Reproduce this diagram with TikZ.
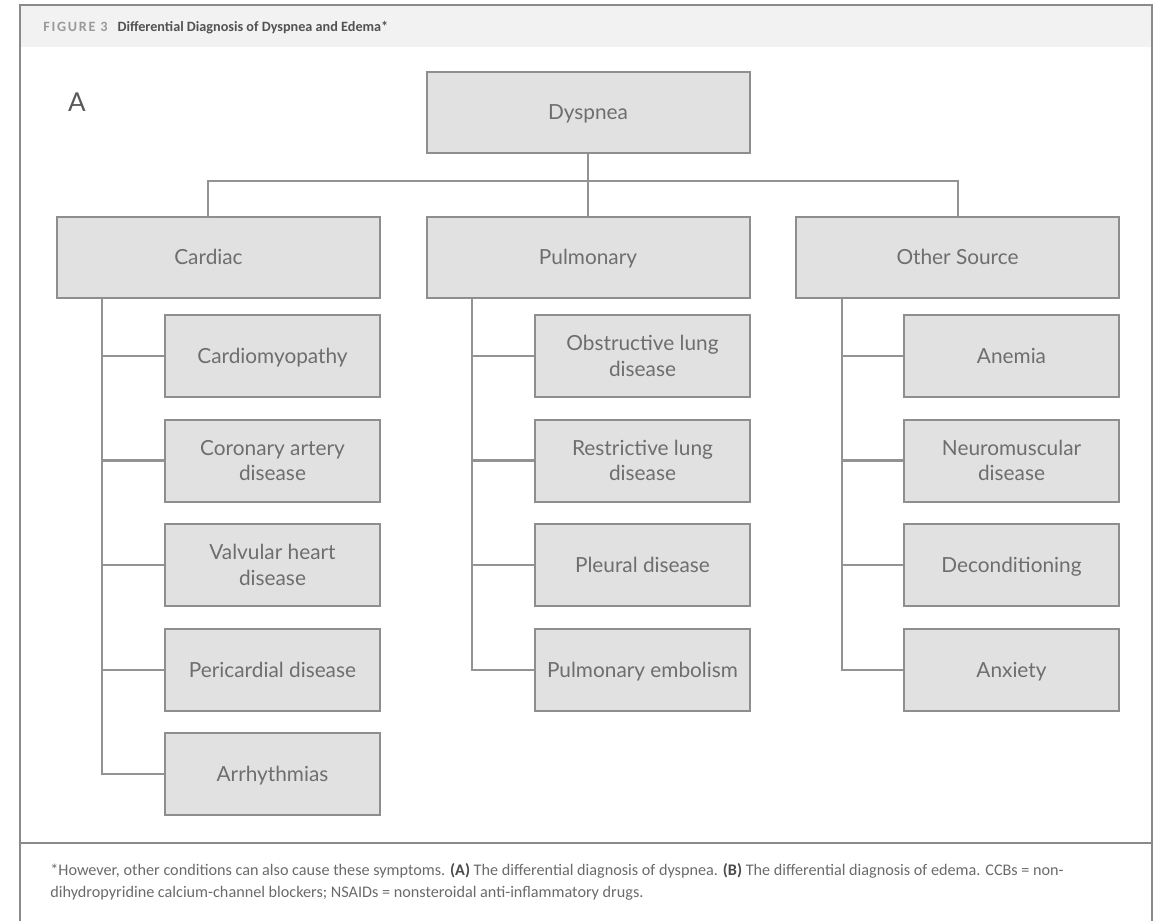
\documentclass[tikz,border=0pt]{standalone}
\usepackage{fontspec}
\setmainfont{Lato}
\newfontfamily\capfont{Carlito}
\definecolor{boxfill}{HTML}{E1E1E1}
\definecolor{boxline}{HTML}{8E8E8E}
\definecolor{boxtext}{HTML}{6E6E6E}
\definecolor{connline}{HTML}{939393}
\definecolor{headbg}{HTML}{F2F2F2}
\definecolor{framecol}{HTML}{8A8A8A}
\definecolor{captext}{HTML}{6A6A6A}
\definecolor{capbold}{HTML}{4A4A4A}
\tikzset{
  box/.style={draw=boxline, fill=boxfill, line width=1pt, inner sep=0pt,
    align=center, text=boxtext, font=\fontsize{10.4}{12.8}\selectfont},
  oneline/.style={text height=7.4pt, text depth=0pt},
  topbox/.style={box, oneline, minimum width=161.5pt, minimum height=40.5pt},
  leafbox/.style={box, minimum width=107.5pt, minimum height=41pt},
  leafone/.style={leafbox, oneline},
  conn/.style={draw=connline, line width=1.2pt},
  framestyle/.style={draw=framecol, line width=1pt},
}
\begin{document}
\begin{tikzpicture}[x=0.5pt, y=-0.5pt]
\useasboundingbox (0,0) rectangle (1159,921);

% figure frame and title band
\fill[headbg] (20,5) rectangle (1152,47);
\draw[framestyle] (20,921) -- (20,5) -- (1152,5) -- (1152,921);
\draw[framestyle] (20,843) -- (1152,843);
\node[anchor=west, inner sep=0pt, font=\capfont\fontsize{7.1}{8}\selectfont] (title) at (43,28)
  {{\color{black!40}\bfseries\addfontfeatures{LetterSpace=12}FIGURE 3}\hspace{5pt}{\color{black!68}\bfseries Differential Diagnosis of Dyspnea and Edema*}};

% panel label
\node[text=black!65, font=\fontsize{13}{15}\selectfont, inner sep=0pt] (panelA) at (77,102) {A};

% root and first level
\node[topbox] (dys) at (588,112.5) {Dyspnea};
\node[topbox] (card) at (218.5,257) {\hspace*{-10pt}Cardiac};
\node[topbox] (pulm) at (588,257) {Pulmonary};
\node[topbox] (other) at (957.5,257) {Other Source};

% cardiac causes
\node[leafone] (cmp) at (272.5,356) {Cardiomyopathy};
\node[leafbox] (cad) at (272.5,460.5) {Coronary artery\\disease};
\node[leafbox] (vhd) at (272.5,565) {Valvular heart\\disease};
\node[leafone] (peri) at (272.5,670) {Pericardial disease};
\node[leafone] (arr) at (272.5,774) {Arrhythmias};

% pulmonary causes
\node[leafbox] (obs) at (642.5,356) {Obstructive lung\\disease};
\node[leafbox] (res) at (642.5,460.5) {Restrictive lung\\disease};
\node[leafone] (pleu) at (642.5,565) {Pleural disease};
\node[leafone] (pe) at (642.5,670) {Pulmonary embolism};

% other sources
\node[leafone] (anem) at (1011.5,356) {Anemia};
\node[leafbox] (neur) at (1011.5,460.5) {Neuromuscular\\disease};
\node[leafone] (deco) at (1011.5,565) {Deconditioning};
\node[leafone] (anx) at (1011.5,670) {Anxiety};

% tree connectors from the root
\coordinate (busL) at (208,181);
\coordinate (busR) at (958,181);
\coordinate (cardTop) at (208,216.75);
\draw[conn] (dys.south) -- (dys.south |- busL);
\draw[conn] (cardTop) -- (busL) -- (busR) -- (other.north -| busR);
\draw[conn] (pulm.north) -- (pulm.north |- busL);

% spines and branches
\coordinate (cSpine) at (102,277);
\coordinate (pSpine) at (472,277);
\coordinate (oSpine) at (842,277);
\draw[conn] (card.south -| cSpine) |- (arr.west);
\foreach \n in {cmp,cad,vhd,peri} \draw[conn] (\n.west) -- (\n.west -| cSpine);
\draw[conn] (pulm.south -| pSpine) |- (pe.west);
\foreach \n in {obs,res,pleu} \draw[conn] (\n.west) -- (\n.west -| pSpine);
\draw[conn] (other.south -| oSpine) |- (anx.west);
\foreach \n in {anem,neur,deco} \draw[conn] (\n.west) -- (\n.west -| oSpine);

% caption
\node[anchor=north west, inner sep=0pt, align=left, text=captext,
      font=\capfont\fontsize{8.1}{11}\selectfont] (caption) at (50,863)
  {*However, other conditions can also cause these symptoms. {\color{capbold}\bfseries(A)} The differential diagnosis of dyspnea. {\color{capbold}\bfseries(B)} The differential diagnosis of edema. CCBs = non-\\
   dihydropyridine calcium-channel blockers; NSAIDs = nonsteroidal anti-inflammatory drugs.};
\end{tikzpicture}
\end{document}
